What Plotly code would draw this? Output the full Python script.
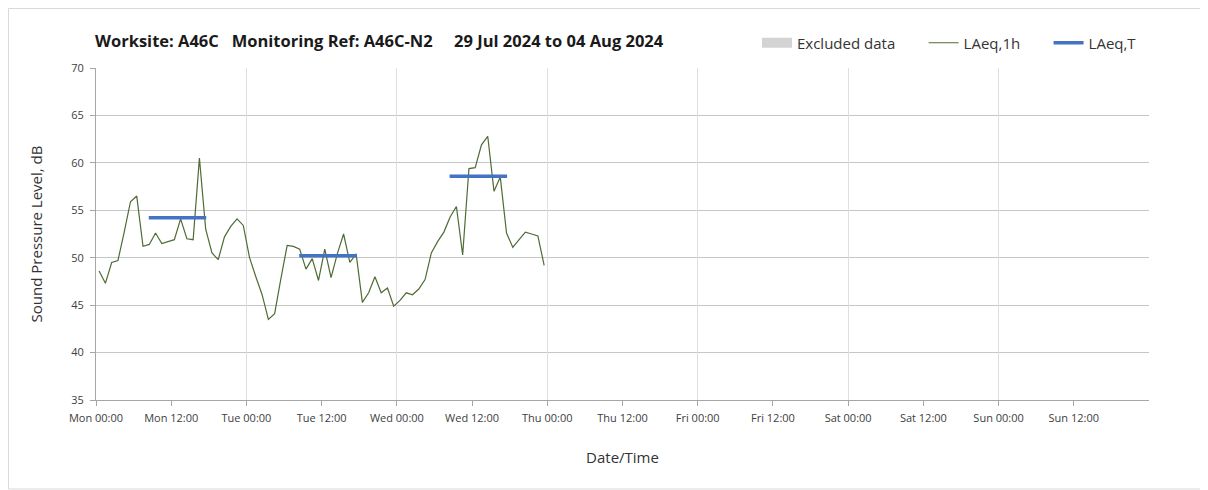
import pandas as pd
import plotly.graph_objects as go

# ---- data ----
start_time = "2024-07-29 00:30"
laeq_1h = [48.6, 47.3, 49.5, 49.7, 52.7, 55.9, 56.5, 51.2, 51.4, 52.6,
           51.5, 51.7, 51.9, 54.1, 52.0, 51.9, 60.5, 53.0, 50.5, 49.8,
           52.2, 53.3, 54.1, 53.4, 50.0, 48.0, 46.1, 43.5, 44.1, 47.8,
           51.3, 51.2, 50.9, 48.8, 49.9, 47.6, 50.9, 47.9, 50.4, 52.5,
           49.5, 50.4, 45.3, 46.3, 48.0, 46.3, 46.8, 44.9, 45.5, 46.3,
           46.1, 46.7, 47.7, 50.5, 51.7, 52.7, 54.3, 55.4, 50.3, 59.4,
           59.5, 61.9, 62.8, 57.0, 58.5, 52.6, 51.1, 51.9, 52.7, 52.5,
           52.3, 49.2]
laeq_T_start = ["2024-07-29 08:25", "2024-07-30 08:25", "2024-07-31 08:25"]
laeq_T_end = ["2024-07-29 17:35", "2024-07-30 17:35", "2024-07-31 17:35"]
laeq_T_values = [54.2, 50.2, 58.6]

tick_vals = pd.date_range("2024-07-29 00:00", periods=14, freq="12h")
tick_text = ["Mon 00:00", "Mon 12:00", "Tue 00:00", "Tue 12:00", "Wed 00:00",
             "Wed 12:00", "Thu 00:00", "Thu 12:00", "Fri 00:00", "Fri 12:00",
             "Sat 00:00", "Sat 12:00", "Sun 00:00", "Sun 12:00"]
x_range = ["2024-07-29 00:00", "2024-08-05 00:00"]
title_text = ("Worksite: A46C\u00a0\u00a0\u00a0Monitoring Ref: A46C-N2"
              "\u00a0\u00a0\u00a0\u00a0\u00a029 Jul 2024 to 04 Aug 2024")

times = pd.date_range(start_time, periods=len(laeq_1h), freq="h")

FONT = "'Open Sans', 'Noto Sans', sans-serif"
W, H = 1200, 482
ML, MR, MT, MB = 88, 59, 60, 90
PW, PH = W - ML - MR, H - MT - MB
PAD = "\u00a0" * 6  # spacing between legend entries

fig = go.Figure()

fig.add_trace(go.Scatter(x=[None], y=[None], mode="lines", name="Excluded data" + PAD,
                         line=dict(color="#d3d3d3", width=12), showlegend=True))
fig.add_trace(go.Scatter(x=times, y=laeq_1h, mode="lines", name="LAeq,1h" + PAD,
                         line=dict(color="#4f6b35", width=1.2)))
tx, ty = [], []
for s, e, v in zip(laeq_T_start, laeq_T_end, laeq_T_values):
    tx += [s, e, None]
    ty += [v, v, None]
fig.add_trace(go.Scatter(x=tx, y=ty, mode="lines", name="LAeq,T",
                         line=dict(color="#4472c4", width=3.5)))
# overlay axis to carry daily gridlines
fig.add_trace(go.Scatter(x=[x_range[0]], y=[None], xaxis="x2", showlegend=False,
                         hoverinfo="skip"))

fig.update_layout(
    width=W, height=H,
    margin=dict(l=ML, r=MR, t=MT, b=MB),
    paper_bgcolor="white", plot_bgcolor="white",
    font=dict(family=FONT, color="#404040"),
    showlegend=True,
    legend=dict(orientation="h", x=(749 - ML) / PW, xanchor="left",
                y=1 + (MT - 35) / PH, yanchor="middle",
                font=dict(size=15, color="#333333"), bgcolor="rgba(0,0,0,0)",
                traceorder="normal"),
    xaxis=dict(type="date", range=x_range, tickvals=tick_vals, ticktext=tick_text,
               showgrid=False, showline=True, linecolor="#a6a6a6", linewidth=1,
               ticks="outside", ticklen=5, tickcolor="#a6a6a6", ticklabelstandoff=3,
               tickfont=dict(size=11, color="#404040"),
               title=dict(text="Date/Time", font=dict(size=15, color="#333333"), standoff=28),
               zeroline=False),
    xaxis2=dict(type="date", range=x_range, overlaying="x", dtick=86400000,
                tick0="2024-07-29", showgrid=True, gridcolor="#dedede", gridwidth=1,
                showticklabels=False, ticks="", showline=False, zeroline=False),
    yaxis=dict(range=[35, 70], dtick=5, showgrid=True, gridcolor="#c6c6c6", gridwidth=1,
               showline=True, linecolor="#a6a6a6", linewidth=1,
               ticks="outside", ticklen=5, tickcolor="#a6a6a6", ticklabelstandoff=4,
               tickfont=dict(size=11, color="#404040"), zeroline=False,
               title=dict(text="Sound Pressure Level, dB",
                          font=dict(size=15, color="#333333"), standoff=24)),
)

fig.add_annotation(text="<b>" + title_text + "</b>", xref="paper", yref="paper",
                   x=-3 / PW, y=1 + (MT - 32) / PH, xanchor="left", yanchor="middle",
                   showarrow=False, font=dict(size=16.5, color="#1a1a1a", family=FONT))

# chart-area border
fig.add_shape(type="rect", xref="paper", yref="paper",
              x0=(0.5 - ML) / PW, x1=(W - 4 - ML) / PW,
              y0=-(MB - 1) / PH, y1=1 + (MT - 0.5) / PH,
              line=dict(color="#d9d9d9", width=1), fillcolor="rgba(0,0,0,0)", layer="below")

fig.write_html("out.html")
